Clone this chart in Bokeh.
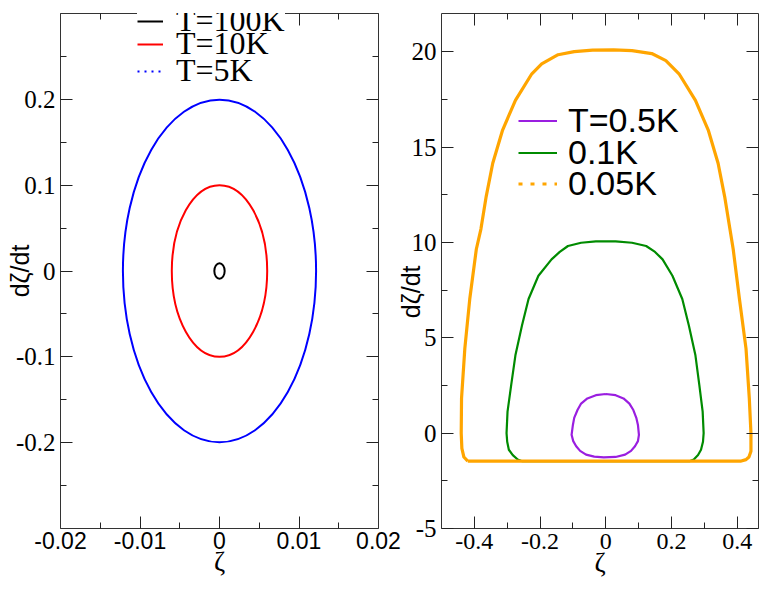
from bokeh.plotting import figure
from bokeh.models import Range1d, FixedTicker, LinearAxis, Legend, LegendItem
from bokeh.layouts import row
from bokeh.embed import file_html
from bokeh.resources import INLINE

NAN = float("nan")

# ---------------- data: left panel (T = 100K, 10K, 5K) ----------------
left_labels = ["T=100K", "T=10K", "T=5K"]
left_center_zeta = [0.0, 0.0, 0.0]
left_center_rate = [0.0, 0.0, 0.0]
left_zeta_width = [0.0013, 0.0120, 0.0243]   # full extent in zeta
left_rate_height = [0.018, 0.200, 0.399]     # full extent in dzeta/dt

left_xticks = [-0.02, -0.01, 0.0, 0.01, 0.02]
left_xtick_labels = ["-0.02", "-0.01", "0", "0.01", "0.02"]
left_xminor = [-0.015, -0.005, 0.005, 0.015]
left_yticks = [-0.2, -0.1, 0.0, 0.1, 0.2]
left_ytick_labels = ["-0.2", "-0.1", "0", "0.1", "0.2"]
left_yminor = [-0.25, -0.15, -0.05, 0.05, 0.15, 0.25]

# ---------------- data: right panel (T = 0.5K, 0.1K, 0.05K) ----------------
right_labels = ["T=0.5K", "0.1K", "0.05K"]

zeta_05 = [0.000, -0.030, -0.056, -0.075, -0.086, -0.096, -0.100, -0.104, -0.099, -0.090,
           -0.078, -0.060, -0.035, -0.006, 0.030, 0.059, 0.077, 0.089, 0.098, 0.101,
           0.098, 0.093, 0.084, 0.072, 0.054, 0.030, 0.000]
rate_05 = [2.05, 1.99, 1.82, 1.55, 1.21, 0.80, 0.43, -0.09, -0.42, -0.69,
           -0.93, -1.13, -1.23, -1.27, -1.25, -1.13, -0.93, -0.69, -0.42, -0.09,
           0.43, 0.80, 1.21, 1.55, 1.82, 1.99, 2.05]

zeta_01 = [-0.255, -0.268, -0.283, -0.295, -0.300, -0.302, -0.299, -0.288, -0.275, -0.255,
           -0.235, -0.205, -0.165, -0.140, -0.115, -0.075, -0.030, 0.030, 0.080, 0.123,
           0.150, 0.173, 0.203, 0.233, 0.253, 0.273, 0.285, 0.295, 0.298, 0.296,
           0.290, 0.281, 0.268, 0.255, -0.255]
rate_01 = [-1.47, -1.38, -1.15, -0.87, -0.45, 0.00, 1.13, 2.50, 4.08, 5.64,
           7.03, 8.25, 9.11, 9.50, 9.81, 9.98, 10.05, 10.05, 9.98, 9.81,
           9.50, 9.11, 8.25, 7.03, 5.64, 4.08, 2.50, 1.13, 0.00, -0.45,
           -0.87, -1.15, -1.38, -1.47, -1.47]

zeta_005 = [-0.420, -0.432, -0.438, -0.440, -0.439, -0.429, -0.414, -0.394, -0.380,
            -0.364, -0.344, -0.314, -0.275, -0.225, -0.195, -0.145, -0.096, -0.040,
            0.024, 0.080, 0.140, 0.183, 0.223, 0.273, 0.312, 0.342, 0.362, 0.378,
            0.388, 0.407, 0.427, 0.437, 0.442, 0.442, 0.436, 0.427, 0.410, -0.420]
rate_005 = [-1.47, -1.25, -0.80, 0.00, 1.82, 4.43, 7.03, 9.64, 10.70,
            12.40, 14.15, 15.89, 17.45, 18.84, 19.36, 19.84, 20.00, 20.08,
            20.09, 20.05, 19.90, 19.53, 18.84, 17.45, 15.89, 14.15, 12.40, 10.70,
            9.64, 7.03, 4.43, 1.82, 0.00, -0.95, -1.25, -1.39, -1.47, -1.47]

right_xticks = [-0.4, -0.2, 0.0, 0.2, 0.4]
right_xtick_labels = ["-0.4", "-0.2", "0", "0.2", "0.4"]
right_xminor = [-0.3, -0.1, 0.1, 0.3]
right_yticks = [-5, 0, 5, 10, 15, 20]
right_ytick_labels = ["-5", "0", "5", "10", "15", "20"]
right_yminor = [-2.5, 2.5, 7.5, 12.5, 17.5]

SERIF = "Liberation Serif"
SANS = "Liberation Sans"
NBSP = "\u00a0"


def setup_axes(p, xt, xl, xm, yt, yl, ym, xfont, xsize, xstand, yfont, ysize,
               ylabel, ylabel_stand, xlabel_stand):
    xticker = FixedTicker(ticks=xt, minor_ticks=xm)
    yticker = FixedTicker(ticks=yt, minor_ticks=ym)
    xa = p.xaxis[0]
    ya = p.yaxis[0]
    xa.ticker = xticker
    ya.ticker = yticker
    xa.major_label_overrides = {t: s for t, s in zip(xt, xl)}
    ya.major_label_overrides = {t: s for t, s in zip(yt, yl)}
    xa.major_label_text_font = xfont
    xa.major_label_text_font_size = xsize
    ya.major_label_text_font = yfont
    ya.major_label_text_font_size = ysize
    xa.major_label_standoff = xstand
    ya.major_label_standoff = 5
    ya.axis_label = ylabel
    ya.axis_label_text_font = SANS
    ya.axis_label_text_font_size = "25px"
    ya.axis_label_text_font_style = "normal"
    ya.axis_label_text_color = "black"
    ya.axis_label_standoff = ylabel_stand
    xa.axis_label = "ζ"
    xa.axis_label_text_font = SERIF
    xa.axis_label_text_font_size = "27px"
    xa.axis_label_text_font_style = "normal"
    xa.axis_label_text_color = "black"
    xa.axis_label_standoff = xlabel_stand
    top = LinearAxis(ticker=xticker, major_label_text_font_size="0px", major_label_standoff=0)
    right = LinearAxis(ticker=yticker, major_label_text_font_size="0px", major_label_standoff=0)
    p.add_layout(top, "above")
    p.add_layout(right, "right")
    for ax in [xa, ya, top, right]:
        ax.major_tick_in = 12
        ax.major_tick_out = 0
        ax.minor_tick_in = 6
        ax.minor_tick_out = 0
        ax.axis_line_color = "#333333"
        ax.major_tick_line_color = "#222222"
        ax.minor_tick_line_color = "#222222"
        ax.major_label_text_color = "black"
    p.grid.grid_line_color = None
    p.outline_line_color = None


def one_item_legend(p, label, rend, loc, font, size, gw, gh, standoff, pad, bg_alpha):
    leg = Legend(items=[LegendItem(label=label, renderers=[rend])], location=loc,
                 label_text_font=font, label_text_font_size=size, label_text_color="black",
                 glyph_width=gw, glyph_height=gh, label_height=gh, label_standoff=standoff,
                 padding=pad, spacing=0, margin=0, border_line_color=None,
                 background_fill_color="white", background_fill_alpha=bg_alpha)
    p.add_layout(leg)


# ---------------- left figure ----------------
p1 = figure(width=402, height=590, x_range=Range1d(-0.02, 0.02), y_range=Range1d(-0.3, 0.3),
            output_backend="svg", toolbar_location=None,
            min_border_left=60, min_border_right=24, min_border_top=13, min_border_bottom=62)
setup_axes(p1, left_xticks, left_xtick_labels, left_xminor,
           left_yticks, left_ytick_labels, left_yminor, SANS, "23px", 3, SERIF, "25px",
           "dζ/dt", -21, -5)

left_colors = ["black", "red", "blue"]
for i in range(3):
    p1.ellipse(x=[left_center_zeta[i]], y=[left_center_rate[i]], width=[left_zeta_width[i]],
               height=[left_rate_height[i]], fill_color=None, line_color=left_colors[i], line_width=2)

d_black = p1.line(x=[NAN], y=[NAN], line_color="black", line_width=2)
d_red = p1.line(x=[NAN], y=[NAN], line_color="red", line_width=2)
d_blue = p1.line(x=[NAN], y=[NAN], line_color="blue", line_width=2, line_dash="2 5")
one_item_legend(p1, left_labels[0], d_black, (77, 489), SERIF, "32px", 26, 28, 13, 4, 1.0)
one_item_legend(p1, left_labels[1], d_red, (77, 466), SERIF, "32px", 26, 28, 13, 4, 0.0)
one_item_legend(p1, left_labels[2], d_blue, (77, 439), SERIF, "32px", 26, 28, 13, 4, 0.0)

# ---------------- right figure ----------------
p2 = figure(width=366, height=590, x_range=Range1d(-0.5, 0.465), y_range=Range1d(-5, 22),
            output_backend="svg", toolbar_location=None, margin=(0, 0, 0, -9),
            min_border_left=42, min_border_right=1, min_border_top=13, min_border_bottom=59)
p2.border_fill_alpha = 0.0
setup_axes(p2, right_xticks, right_xtick_labels, right_xminor,
           right_yticks, right_ytick_labels, right_yminor, SERIF, "24px", 5, SERIF, "25px",
           "dζ/dt" + NBSP * 6, -16, -4)

r_green = p2.line(zeta_01, rate_01, line_color="#008b00", line_width=2.2, line_join="round")
r_orange = p2.line(zeta_005, rate_005, line_color="#ffa500", line_width=3.2, line_join="round")
r_purple = p2.line(zeta_05, rate_05, line_color="#9a1ee0", line_width=2.2, line_join="round")
d_orange = p2.line(x=[NAN], y=[NAN], line_color="#ffa500", line_width=3, line_dash="4 8")
one_item_legend(p2, right_labels[0], r_purple, (77, 388), SANS, "34px", 39, 31, 11, 0, 0.0)
one_item_legend(p2, right_labels[1], r_green, (77, 356), SANS, "34px", 39, 31, 11, 0, 0.0)
one_item_legend(p2, right_labels[2], d_orange, (77, 325), SANS, "34px", 39, 31, 11, 0, 0.0)

layout = row(p1, p2)
open("out.html", "w").write(file_html(layout, INLINE))
